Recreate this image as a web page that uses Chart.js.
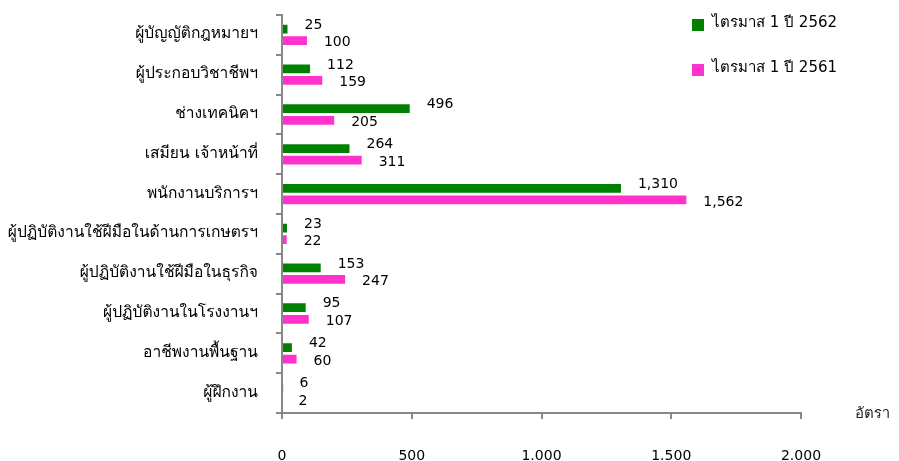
<!DOCTYPE html>
<html>
<head>
<meta charset="utf-8">
<script src="https://cdn.jsdelivr.net/npm/chart.js@4.4.1/dist/chart.umd.min.js"></script>
<style>
  html, body { margin: 0; padding: 0; background: #fff; }
  #wrap { width: 899px; height: 461px; }
</style>
</head>
<body>
<div id="wrap"><canvas id="chart"></canvas></div>
<script>
const categories = [
  'ผู้บัญญัติกฎหมายฯ',
  'ผู้ประกอบวิชาชีพฯ',
  'ช่างเทคนิคฯ',
  'เสมียน เจ้าหน้าที่',
  'พนักงานบริการฯ',
  'ผู้ปฏิบัติงานใช้ฝีมือในด้านการเกษตรฯ',
  'ผู้ปฏิบัติงานใช้ฝีมือในธุรกิจ',
  'ผู้ปฏิบัติงานในโรงงานฯ',
  'อาชีพงานพื้นฐาน',
  'ผู้ฝึกงาน'
];
const q1_2562 = [25, 112, 496, 264, 1310, 23, 153, 95, 42, 6];
const q1_2561 = [100, 159, 205, 311, 1562, 22, 247, 107, 60, 2];
const xTicks = [0, 500, 1000, 1500, 2000];
const axisTitle = 'อัตรา';

const THAI = "Tahoma, Waree, Loma, 'Noto Sans Thai Looped', sans-serif";
const NUM = "'DejaVu Sans', sans-serif";
const green = '#008000';
const pink = '#ff33cc';

// value labels next to each bar end
const barLabels = {
  id: 'barLabels',
  afterDatasetsDraw(chart) {
    const ctx = chart.ctx;
    ctx.save();
    ctx.font = '14px ' + NUM;
    ctx.fillStyle = '#000';
    ctx.textAlign = 'left';
    ctx.textBaseline = 'middle';
    chart.data.datasets.forEach((ds, di) => {
      const dy = di === 0 ? -4 : 2;
      chart.getDatasetMeta(di).data.forEach((bar, i) => {
        ctx.fillText(ds.data[i].toLocaleString('en-US'), bar.x + 16, bar.y + dy);
      });
    });
    ctx.restore();
  }
};

// legend in the top right corner + axis title
const extras = {
  id: 'extras',
  afterDraw(chart) {
    const ctx = chart.ctx;
    ctx.save();
    ctx.textAlign = 'left';
    ctx.textBaseline = 'middle';
    ctx.font = "15px Tahoma, 'DejaVu Sans', sans-serif";
    chart.data.datasets.forEach((ds, i) => {
      const y = 25 + i * 45;
      ctx.fillStyle = ds.backgroundColor;
      ctx.fillRect(692, y - 6, 12, 12);
      ctx.fillStyle = '#000';
      ctx.fillText(ds.label, 712, y - 2);
    });
    ctx.font = '15px ' + THAI;
    ctx.fillStyle = '#222';
    ctx.fillText(axisTitle, 855, chart.chartArea.bottom + 2);
    ctx.restore();
  }
};

new Chart(document.getElementById('chart'), {
  type: 'bar',
  data: {
    labels: categories,
    datasets: [
      { label: 'ไตรมาส 1 ปี 2562', data: q1_2562, backgroundColor: green,
        borderColor: 'rgba(255,255,255,0.4)', borderWidth: 1 },
      { label: 'ไตรมาส 1 ปี 2561', data: q1_2561, backgroundColor: pink,
        borderColor: 'rgba(255,255,255,0.4)', borderWidth: 1 }
    ]
  },
  options: {
    indexAxis: 'y',
    responsive: true,
    maintainAspectRatio: false,
    animation: false,
    categoryPercentage: 0.58,
    barPercentage: 0.93,
    layout: { padding: { top: 15, right: 98, bottom: 0, left: 0 } },
    plugins: {
      legend: { display: false },
      tooltip: { enabled: false }
    },
    scales: {
      x: {
        min: 0,
        max: 2000,
        afterBuildTicks(scale) { scale.ticks = xTicks.map(v => ({ value: v })); },
        afterFit(scale) { scale.height = 48; },
        border: { color: '#888', width: 2 },
        grid: { drawOnChartArea: false, drawTicks: true, tickLength: 6, color: '#888', lineWidth: 2 },
        ticks: {
          padding: 30,
          color: '#000',
          font: { family: NUM, size: 14, lineHeight: 1 },
          maxRotation: 0,
          callback: v => v.toLocaleString('de-DE')
        }
      },
      y: {
        afterFit(scale) {
          scale.width = 282;
          scale.paddingTop = 0;
          scale.paddingBottom = 0;
        },
        border: { color: '#888', width: 2 },
        grid: { drawOnChartArea: false, drawTicks: true, tickLength: 6, color: '#888', lineWidth: 2 },
        ticks: {
          padding: 18,
          color: '#000',
          font: { family: THAI, size: 15.6 },
          autoSkip: false
        }
      }
    }
  },
  plugins: [barLabels, extras]
});
</script>
</body>
</html>
